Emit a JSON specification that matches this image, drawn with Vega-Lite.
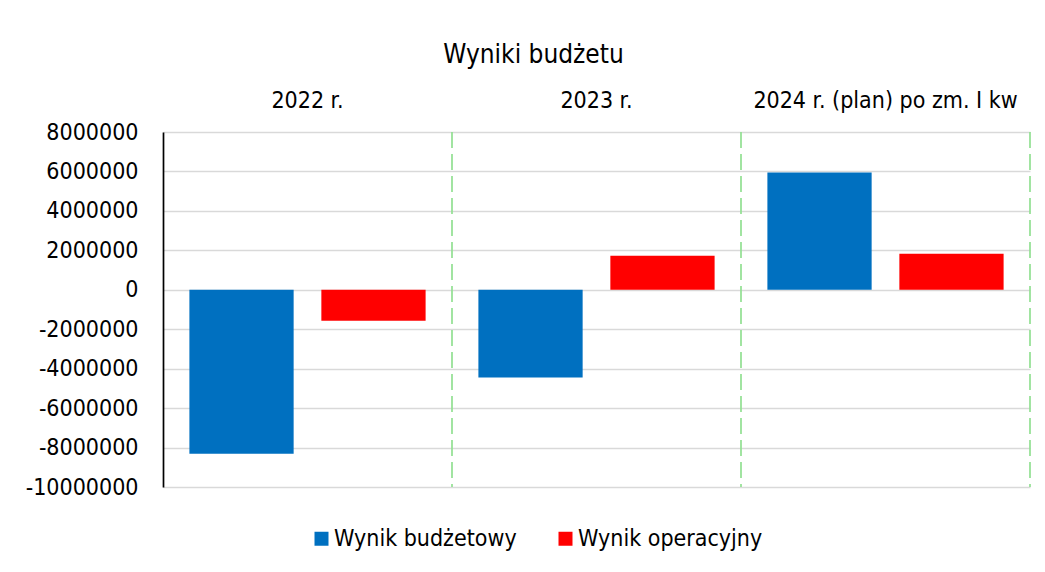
{
  "$schema": "https://vega.github.io/schema/vega-lite/v6.json",
  "autosize": {"type": "none"},
  "padding": {"left": 163, "top": 132, "right": 15, "bottom": 85},
  "width": 867,
  "height": 355,
  "background": "white",
  "title": {
    "text": "Wyniki budżetu",
    "anchor": "middle",
    "dx": -63,
    "offset": 21,
    "fontSize": 26,
    "fontWeight": "normal",
    "color": "#000000",
    "font": "DejaVu Sans Condensed, DejaVu Sans"
  },
  "datasets": {
    "bars": [
      {"rok": "2022 r.", "seria": "Wynik budżetowy", "wartosc": -8320000},
      {"rok": "2022 r.", "seria": "Wynik operacyjny", "wartosc": -1570000},
      {"rok": "2023 r.", "seria": "Wynik budżetowy", "wartosc": -4450000},
      {"rok": "2023 r.", "seria": "Wynik operacyjny", "wartosc": 1730000},
      {"rok": "2024 r. (plan) po zm. I kw", "seria": "Wynik budżetowy", "wartosc": 5950000},
      {"rok": "2024 r. (plan) po zm. I kw", "seria": "Wynik operacyjny", "wartosc": 1830000}
    ],
    "years": [
      {"rok": "2022 r."},
      {"rok": "2023 r."},
      {"rok": "2024 r. (plan) po zm. I kw"}
    ]
  },
  "layer": [
    {
      "data": {"name": "years"},
      "mark": {"type": "rule", "color": "#92E092", "strokeWidth": 1.7, "strokeDash": [16, 6]},
      "encoding": {
        "x": {
          "field": "rok",
          "type": "nominal",
          "bandPosition": 1,
          "sort": null,
          "scale": {"paddingInner": 0, "paddingOuter": 0},
          "axis": {
            "orient": "top",
            "title": null,
            "labelAngle": 0,
            "domain": false,
            "ticks": false,
            "grid": false,
            "labelPadding": 20,
            "labelFontSize": 23,
            "labelColor": "#000000",
            "labelLimit": 500,
            "labelOverlap": false,
            "labelFont": "DejaVu Sans Condensed, DejaVu Sans"
          }
        }
      }
    },
    {
      "data": {"name": "bars"},
      "mark": {"type": "bar"},
      "encoding": {
        "x": {
          "field": "rok",
          "type": "nominal",
          "sort": null
        },
        "xOffset": {
          "field": "seria",
          "type": "nominal",
          "sort": ["Wynik budżetowy", "Wynik operacyjny"],
          "scale": {"paddingInner": 0.21, "paddingOuter": 0.2}
        },
        "y": {
          "field": "wartosc",
          "type": "quantitative",
          "scale": {"domain": [-10000000, 8000000], "nice": false, "zero": true},
          "axis": {
            "title": null,
            "values": [-10000000, -8000000, -6000000, -4000000, -2000000, 0, 2000000, 4000000, 6000000, 8000000],
            "tickCount": 20,
            "labelExpr": "'' + datum.value",
            "labelOverlap": false,
            "labelFlush": false,
            "ticks": false,
            "domain": true,
            "domainColor": "#000000",
            "domainWidth": 1.7,
            "grid": true,
            "gridColor": "#D9D9D9",
            "gridWidth": 1.7,
            "labelPadding": 25,
            "labelFontSize": 23,
            "labelColor": "#000000",
            "labelFont": "DejaVu Sans Condensed, DejaVu Sans"
          }
        },
        "color": {
          "field": "seria",
          "type": "nominal",
          "sort": ["Wynik budżetowy", "Wynik operacyjny"],
          "scale": {"domain": ["Wynik budżetowy", "Wynik operacyjny"], "range": ["#0070C0", "#FF0000"]},
          "legend": {
            "title": null,
            "orient": "none",
            "direction": "horizontal",
            "legendX": 147,
            "legendY": 395,
            "symbolType": "square",
            "symbolSize": 196,
            "symbolStrokeWidth": 0,
            "symbolOpacity": 1,
            "labelFontSize": 23,
            "labelColor": "#000000",
            "labelFont": "DejaVu Sans Condensed, DejaVu Sans",
            "labelOffset": 1,
            "labelLimit": 500,
            "columnPadding": 37
          }
        }
      }
    },
    {
      "mark": {"type": "rule", "color": "#000000", "strokeWidth": 2},
      "encoding": {"y": {"datum": 0}}
    }
  ],
  "config": {
    "view": {"stroke": null},
    "font": "DejaVu Sans Condensed, DejaVu Sans"
  }
}
